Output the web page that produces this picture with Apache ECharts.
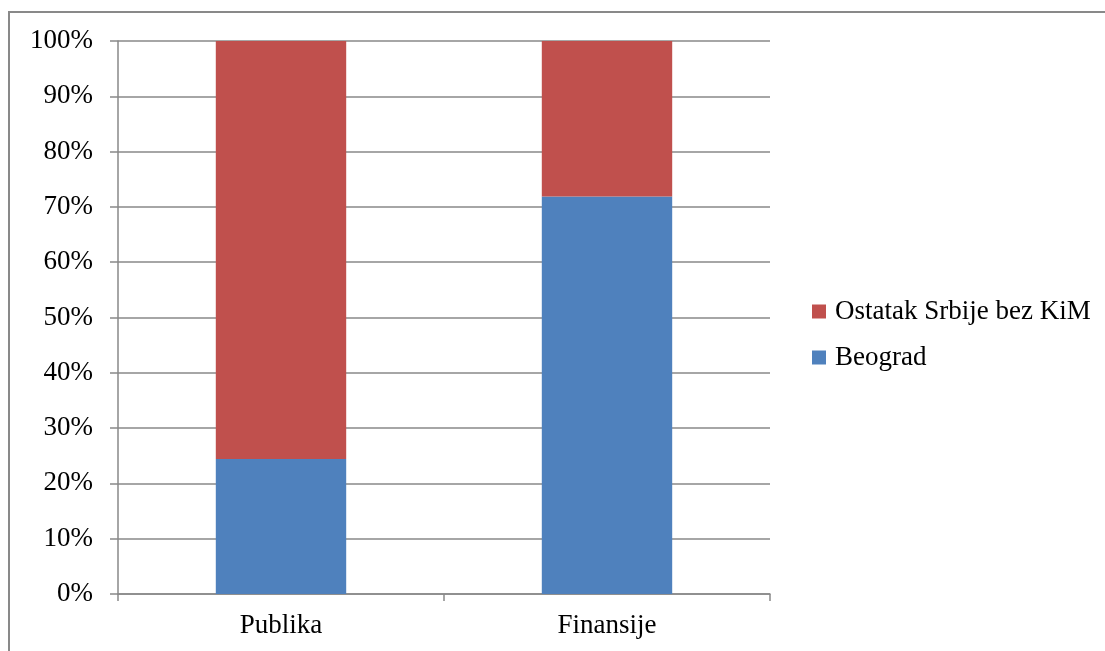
<!DOCTYPE html>
<html>
<head>
<meta charset="utf-8">
<script src="https://cdn.jsdelivr.net/npm/echarts@6/dist/echarts.min.js"></script>
<style>
  html, body { margin: 0; padding: 0; background: #fff; }
  #main { width: 1105px; height: 651px; }
</style>
</head>
<body>
<div id="main"></div>
<script>
const categories = ['Publika', 'Finansije'];
const beograd = [24.4, 71.9];
const ostatak = [75.6, 28.1];
const seriesNames = ['Beograd', 'Ostatak Srbije bez KiM'];

const font = 'Liberation Serif';
const gray = '#898989';

const chart = echarts.init(document.getElementById('main'), null, { renderer: 'canvas' });

chart.setOption({
  backgroundColor: '#fff',
  animation: false,
  color: ['#4F81BD', '#C0504D'],
  textStyle: { fontFamily: font },
  graphic: [{
    type: 'rect',
    shape: { x: 9, y: 12, width: 1200, height: 700 },
    style: { fill: 'none', stroke: gray, lineWidth: 2 },
    silent: true
  }],
  legend: {
    orient: 'vertical',
    left: 807,
    top: 293,
    itemWidth: 14,
    itemHeight: 14,
    itemGap: 19,
    icon: 'rect',
    data: [seriesNames[1], seriesNames[0]],
    textStyle: { fontFamily: font, fontSize: 27, color: '#000', padding: [0, 0, 0, 4] }
  },
  grid: {
    left: 118,
    right: 335,
    top: 41,
    bottom: 57,
    containLabel: false
  },
  xAxis: {
    type: 'category',
    data: categories,
    axisLine: { lineStyle: { color: gray, width: 1.5 } },
    axisTick: { show: true, length: 7, lineStyle: { color: gray, width: 1.5 } },
    axisLabel: { color: '#000', fontSize: 27, fontFamily: font, margin: 18 }
  },
  yAxis: {
    type: 'value',
    min: 0,
    max: 100,
    interval: 10,
    axisLine: { show: true, lineStyle: { color: gray, width: 1.5 } },
    axisTick: { show: true, length: 8, lineStyle: { color: gray, width: 1.5 } },
    splitLine: { show: true, lineStyle: { color: gray, width: 1.5 } },
    axisLabel: { color: '#000', fontSize: 27, fontFamily: font, margin: 25, formatter: '{value}%' }
  },
  series: [
    {
      name: seriesNames[0],
      type: 'bar',
      stack: 'total',
      barWidth: '40%',
      data: beograd
    },
    {
      name: seriesNames[1],
      type: 'bar',
      stack: 'total',
      barWidth: '40%',
      data: ostatak
    }
  ]
});

window.onresize = () => chart.resize();
</script>
</body>
</html>
